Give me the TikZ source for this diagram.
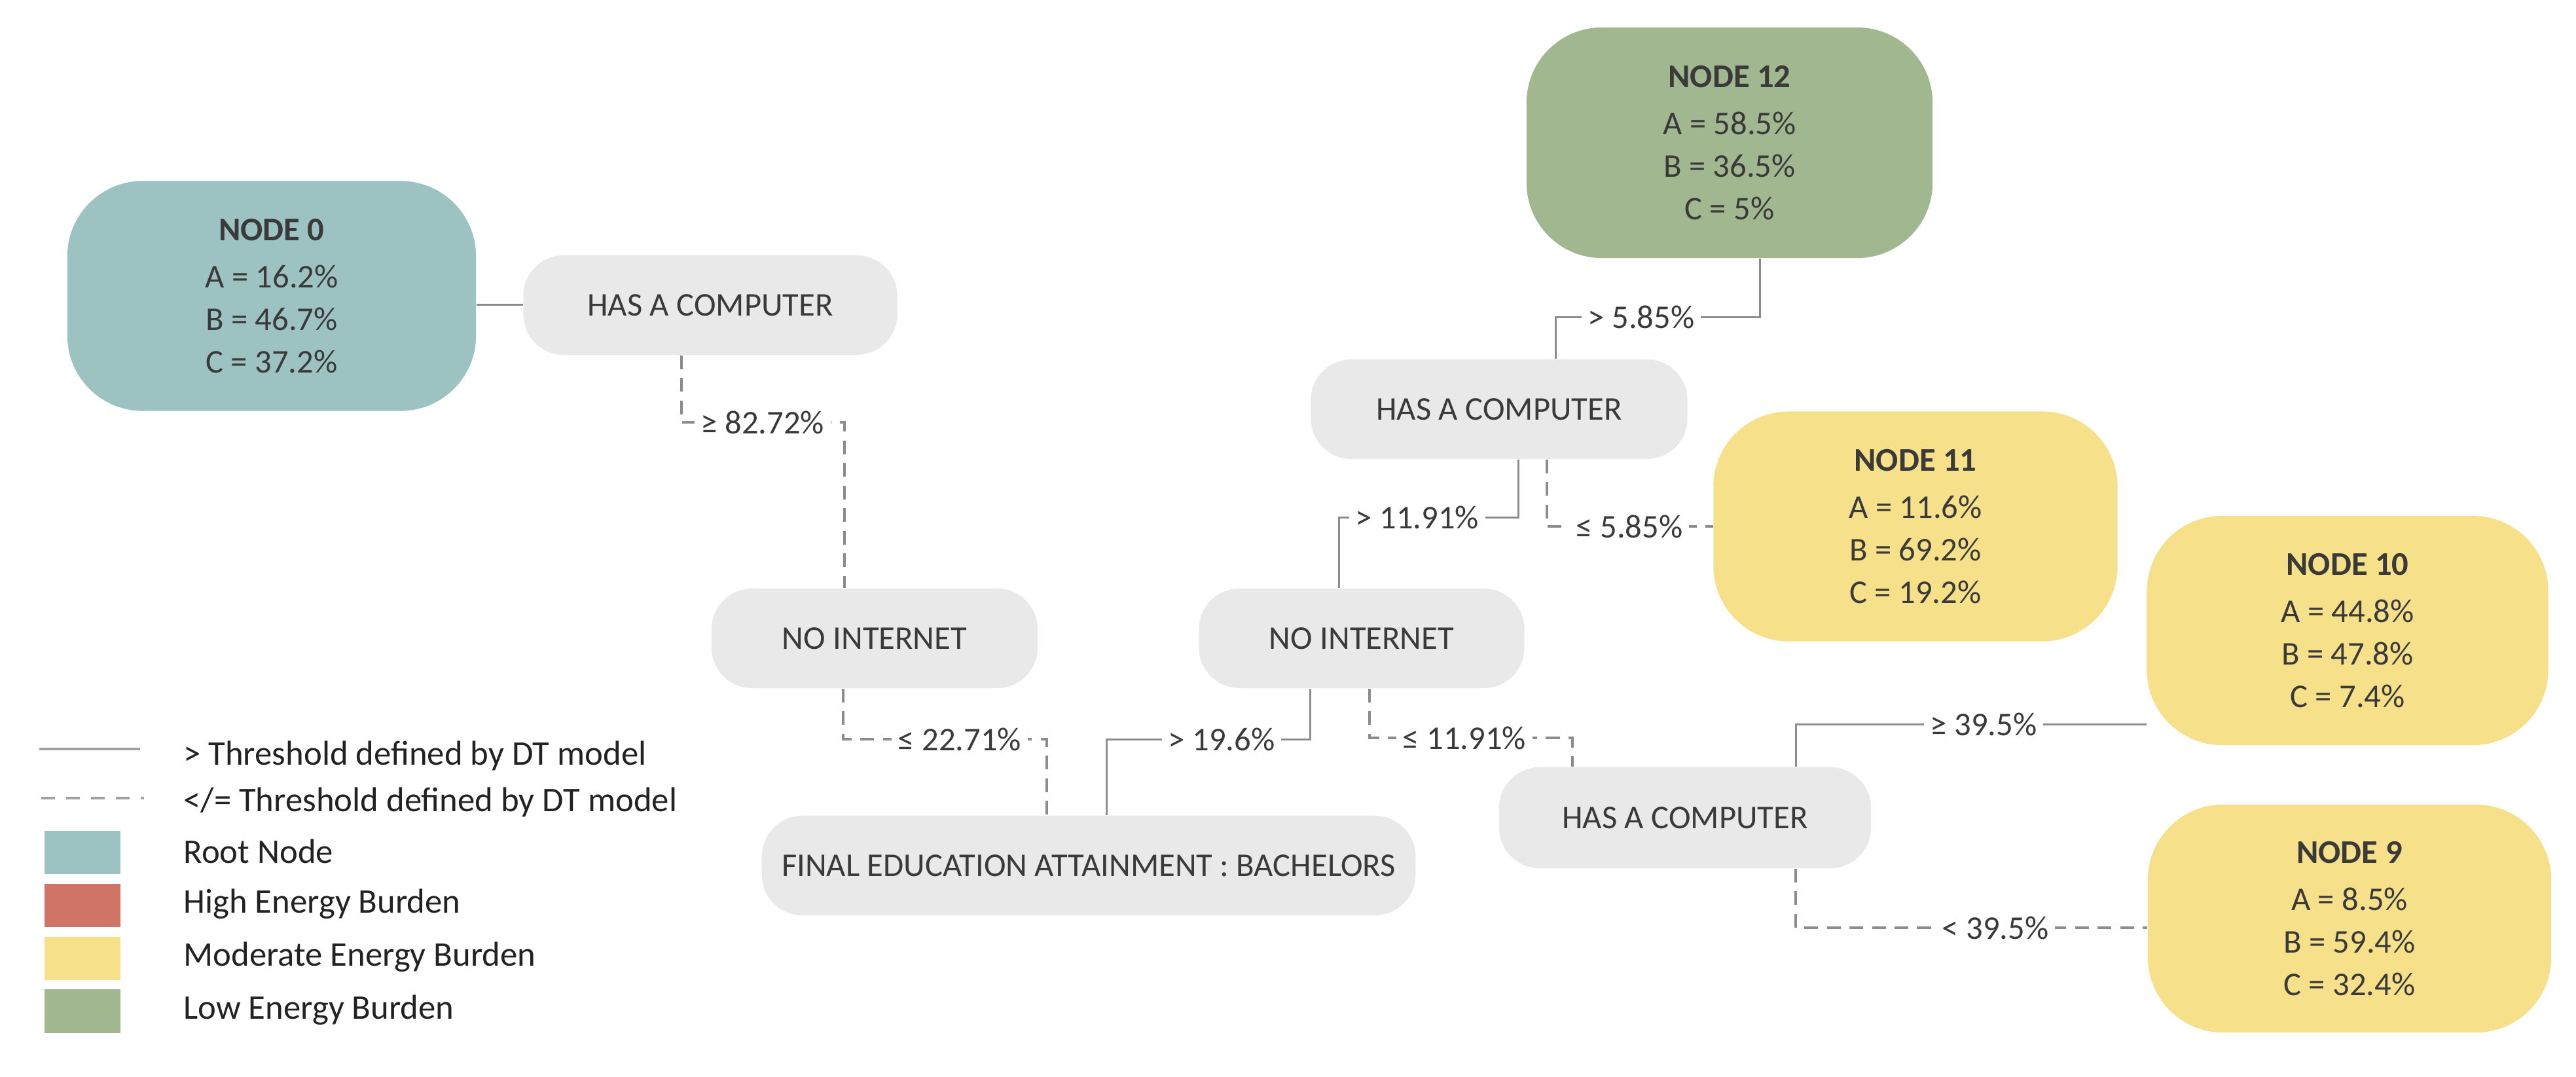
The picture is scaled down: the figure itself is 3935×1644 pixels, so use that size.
\documentclass[tikz,border=0pt]{standalone}
\usepackage{fontspec}
\setmainfont{Carlito}
\usetikzlibrary{calc}
\pgfdeclarelayer{bg}
\pgfsetlayers{bg,main}
\definecolor{txt}{HTML}{3A3A3A}
\definecolor{lgtxt}{HTML}{222222}
\definecolor{graynode}{HTML}{E9E9E9}
\definecolor{rootc}{HTML}{9CC3C1}
\definecolor{lowc}{HTML}{A1B78F}
\definecolor{modc}{HTML}{F6E18A}
\definecolor{highc}{HTML}{CF7466}
\definecolor{linec}{HTML}{8C8C8C}
\definecolor{lgline}{HTML}{A0A0A0}
\begin{document}
\begin{tikzpicture}[x=0.01cm,y=-0.01cm,
  every node/.style={text=txt,font=\fontsize{14.4}{18.5}\selectfont},
  dec/.style={fill=graynode, rounded corners=0.62cm, inner sep=0pt, align=center, minimum height=1.52cm},
  leaf/.style={rounded corners=1.15cm, inner sep=0pt, align=center, minimum height=3.5cm, minimum width=6.18cm},
  sol/.style={draw=linec, line width=0.85pt},
  dsh/.style={draw=linec, line width=1.1pt, dash pattern=on 6pt off 3.8pt},
  lbl/.style={fill=white, inner xsep=0.1cm, inner ysep=1pt},
  lgt/.style={anchor=west, text=lgtxt, font=\fontsize{15}{18}\selectfont}]
\useasboundingbox (0,0) rectangle (3935,1644);

% decision nodes
\node[dec, minimum width=5.71cm] (has1) at (1085,466) {HAS A COMPUTER};
\node[dec, minimum width=4.98cm] (ni1) at (1336,975) {NO INTERNET};
\node[dec, minimum width=4.97cm] (ni2) at (2080,975) {NO INTERNET};
\node[dec, minimum width=9.98cm] (final) at (1663,1322) {FINAL EDUCATION ATTAINMENT : BACHELORS};
\node[dec, minimum width=5.75cm] (has2) at (2290,625) {HAS A COMPUTER};
\node[dec, minimum width=5.68cm, minimum height=1.54cm] (has3) at (2574,1249) {HAS A COMPUTER};

% leaf nodes
\node[leaf, fill=rootc, minimum width=6.24cm, minimum height=3.51cm] (n0) at (415,452)
  {{\bfseries NODE 0}\\[2pt] A = 16.2\%\\ B = 46.7\%\\ C = 37.2\%};
\node[leaf, fill=lowc, minimum width=6.2cm, minimum height=3.52cm] (n12) at (2642,218)
  {{\bfseries NODE 12}\\[2pt] A = 58.5\%\\ B = 36.5\%\\ C = 5\%};
\node[leaf, fill=modc, minimum width=6.17cm, minimum height=3.51cm] (n11) at (2926,804)
  {{\bfseries NODE 11}\\[2pt] A = 11.6\%\\ B = 69.2\%\\ C = 19.2\%};
\node[leaf, fill=modc, minimum width=6.13cm, minimum height=3.5cm] (n10) at (3586,963)
  {{\bfseries NODE 10}\\[2pt] A = 44.8\%\\ B = 47.8\%\\ C = 7.4\%};
\node[leaf, fill=modc, minimum width=6.16cm, minimum height=3.48cm] (n9) at (3589,1403)
  {{\bfseries NODE 9}\\[2pt] A = 8.5\%\\ B = 59.4\%\\ C = 32.4\%};

% connectors
\begin{pgfonlayer}{bg}
\draw[sol] (n0.east |- 0,465) -- (has1.west |- 0,465);
\draw[dsh] (1041,0 |- has1.south) -- (1041,645) -- (1290,645) -- (1290,0 |- ni1.north);
\node[lbl] at (1165,645) {≥ 82.72\%};
\draw[dsh] (1288,0 |- ni1.south) -- (1288,1129) -- (1599,1129) -- (1599,0 |- final.north);
\node[lbl] at (1466,1129) {≤ 22.71\%};
\draw[sol] (1690,0 |- final.north) -- (1690,1129) -- (2001,1129) -- (2001,0 |- ni2.south);
\node[lbl] at (1866,1129) {> 19.6\%};
\draw[dsh] (2092,0 |- ni2.south) -- (2092,1127) -- (2402,1127) -- (2402,0 |- has3.north);
\node[lbl] at (2237,1127) {≤ 11.91\%};
\draw[sol] (2045,0 |- ni2.north) -- (2045,790) -- (2319,790) -- (2319,0 |- has2.south);
\node[lbl] at (2165,790) {> 11.91\%};
\draw[dsh] (2363,0 |- has2.south) |- (n11.west);
\node[lbl] at (2489,804) {≤ 5.85\%};
\draw[sol] (2376,0 |- has2.north) -- (2376,484) -- (2688,484) -- (2688,0 |- n12.south);
\node[lbl] at (2507,484) {> 5.85\%};
\draw[sol] (2743,0 |- has3.north) -- (2743,1106) -- (n10.west |- 0,1106);
\node[lbl] at (3030,1106) {≥ 39.5\%};
\draw[dsh] (2743,0 |- has3.south) -- (2743,1417) -- (n9.west |- 0,1417);
\node[lbl] at (3048,1417) {< 39.5\%};
\end{pgfonlayer}

% legend
\draw[draw=lgline, line width=1.4pt] (60,1144) -- (214,1144);
\draw[draw=lgline, line width=1.3pt, dash pattern=on 6pt off 4.8pt] (63,1219) -- (220,1219);
\fill[rootc] (68,1269) rectangle (184,1335);
\fill[highc] (68,1350) rectangle (184,1416);
\fill[modc] (68,1431) rectangle (184,1497);
\fill[lowc] (68,1511) rectangle (184,1578);
\node[lgt] (l1) at (268,1154) {> Threshold defined by DT model};
\node[lgt] (l2) at (268,1225) {</= Threshold defined by DT model};
\node[lgt] (l3) at (268,1300) {Root Node};
\node[lgt] (l4) at (268,1381) {High Energy Burden};
\node[lgt] (l5) at (268,1462) {Moderate Energy Burden};
\node[lgt] (l6) at (268,1543) {Low Energy Burden};
\end{tikzpicture}
\end{document}
